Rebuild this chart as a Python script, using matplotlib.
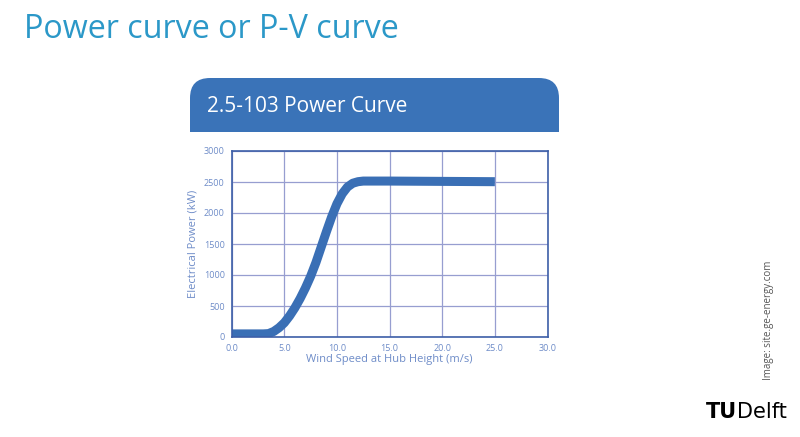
import matplotlib
matplotlib.use("Agg")
import matplotlib.pyplot as plt
from matplotlib.patches import FancyBboxPatch, Rectangle
import numpy as np

# Data
wind_speed = [0.0, 1.0, 2.0, 3.0, 3.5, 4.0, 4.5, 5.0, 5.5, 6.0, 6.5, 7.0, 7.5, 8.0, 8.5, 9.0,
              9.5, 10.0, 10.5, 11.0, 11.5, 12.0, 12.5, 13.0, 15.0, 20.0, 25.0]
power_kw = [50, 50, 50, 50, 55, 90, 150, 230, 340, 470, 620, 790, 980, 1200, 1450, 1700,
            1940, 2150, 2310, 2420, 2480, 2505, 2515, 2515, 2515, 2510, 2505]
x_ticks = [0, 5, 10, 15, 20, 25, 30]
x_tick_labels = ["0.0", "5.0", "10.0", "15.0", "20.0", "25.0", "30.0"]
y_ticks = [0, 500, 1000, 1500, 2000, 2500, 3000]
y_tick_labels = ["0", "500", "1000", "1500", "2000", "2500", "3000"]

W, H = 800, 437
fig = plt.figure(figsize=(W / 100, H / 100), dpi=100)
fig.patch.set_facecolor("white")

def fx(px):
    return px / W

def fy(py):
    return 1 - py / H

# Slide title
fig.text(fx(24), fy(30), "Power curve or P-V curve", fontsize=23.2, color="#2b98c8",
         family="Open Sans", va="center", ha="left")

# Banner with rounded top corners
banner_col = "#3a73b8"
bb = FancyBboxPatch((fx(190), fy(132)), fx(559) - fx(190), fy(78) - fy(132),
                    boxstyle="round,pad=0,rounding_size=0.025", transform=fig.transFigure,
                    facecolor=banner_col, edgecolor="none", mutation_aspect=W / H)
fig.patches.append(bb)
fig.patches.append(Rectangle((fx(190), fy(132)), fx(559) - fx(190), fy(110) - fy(132),
                             transform=fig.transFigure, facecolor=banner_col, edgecolor="none"))
fig.text(fx(207), fy(106), "2.5-103 Power Curve", fontsize=15, color="white",
         family="Open Sans", va="center", ha="left")

# Chart axes
ax = fig.add_axes([fx(231.7), fy(337), fx(547.5) - fx(231.7), fy(151) - fy(337)])
ax.plot(wind_speed, power_kw, color="#3a6fb5", linewidth=6.5, solid_capstyle="butt")
ax.set_xlim(0, 30)
ax.set_ylim(0, 3000)
ax.set_xticks(x_ticks)
ax.set_xticklabels(x_tick_labels)
ax.set_yticks(y_ticks)
ax.set_yticklabels(y_tick_labels)
ax.grid(True, color="#979ed0", linewidth=0.9)
ax.set_axisbelow(True)
for s in ax.spines.values():
    s.set_color("#3d5fa8")
    s.set_linewidth(1.2)
ax.tick_params(length=0, pad=5, labelsize=6.5, labelcolor="#6e8cc8")
for lbl in ax.get_xticklabels() + ax.get_yticklabels():
    lbl.set_family("Open Sans")
ax.set_xlabel("Wind Speed at Hub Height (m/s)", fontsize=8, color="#6e8cc8",
              family="Open Sans", labelpad=1)
ax.set_ylabel("Electrical Power (kW)", fontsize=8, color="#6e8cc8",
              family="Open Sans", labelpad=4)

# Image credit
fig.text(fx(768), fy(320), "Image: site.ge-energy.com", rotation=90, fontsize=7,
         color="#555555", ha="center", va="center", family="Open Sans")

# TU Delft logo text
fig.text(fx(706), fy(412), "TU", fontsize=15, fontweight="bold", color="black",
         family="DejaVu Sans", ha="left", va="center")
fig.text(fx(737), fy(412), "Delft", fontsize=15, color="black",
         family="DejaVu Sans", ha="left", va="center")

fig.savefig("out.png", dpi=100, facecolor="white")
